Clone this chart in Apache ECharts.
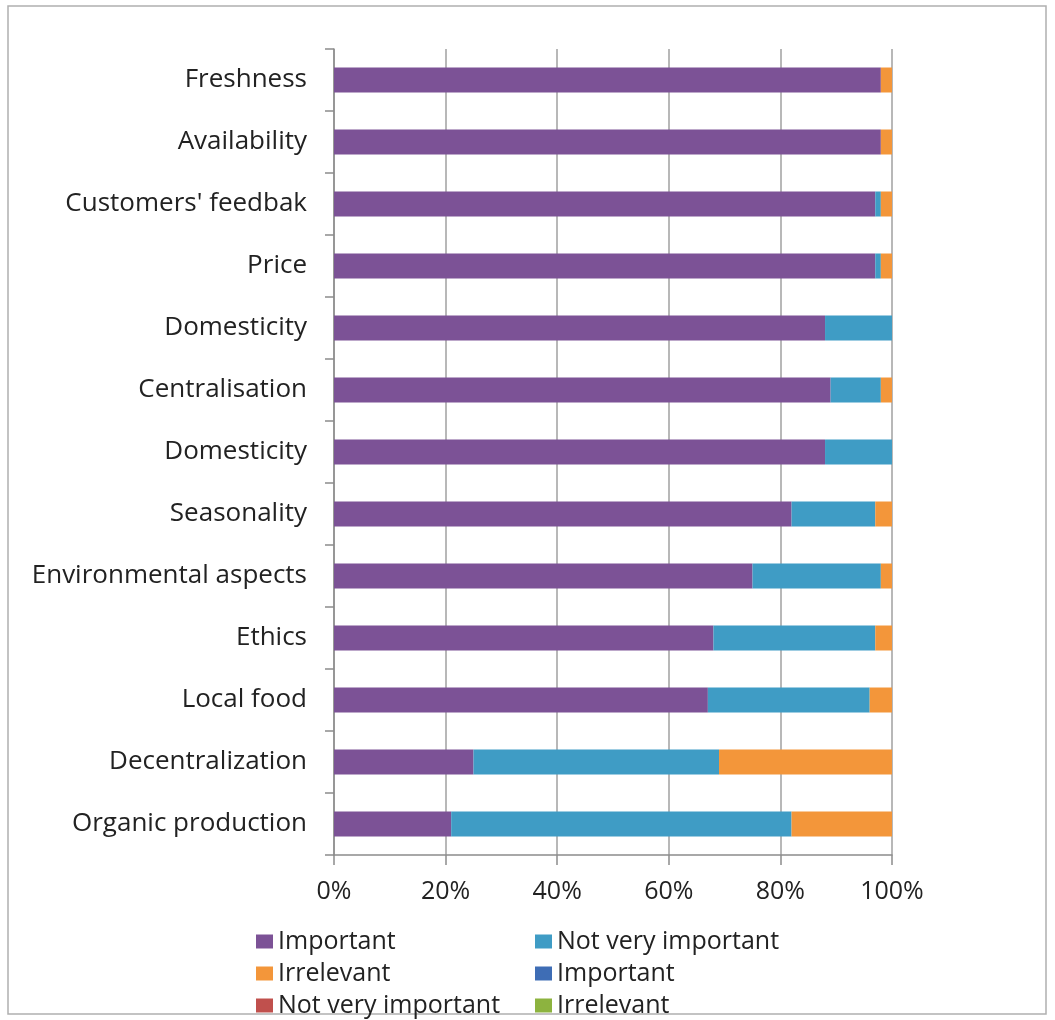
<!DOCTYPE html>
<html>
<head>
<meta charset="utf-8">
<script src="https://cdn.jsdelivr.net/npm/echarts@6/dist/echarts.min.js"></script>
<style>
html,body{margin:0;padding:0;background:#fff;}
#chart{width:1055px;height:1020px;}
</style>
</head>
<body>
<div id="chart"></div>
<script>
const categories = ["Freshness","Availability","Customers' feedbak","Price","Domesticity","Centralisation","Domesticity","Seasonality","Environmental aspects","Ethics","Local food","Decentralization","Organic production"];
const important = [98, 98, 97, 97, 88, 89, 88, 82, 75, 68, 67, 25, 21];
const notVeryImportant = [0, 0, 1, 1, 12, 9, 12, 15, 23, 29, 29, 44, 61];
const irrelevant = [2, 2, 2, 2, 0, 2, 0, 3, 2, 3, 4, 31, 18];
const emptySeries = [0, 0, 0, 0, 0, 0, 0, 0, 0, 0, 0, 0, 0];
const xTicks = ["0%","20%","40%","60%","80%","100%"];

const FONT = 'Open Sans';
const chart = echarts.init(document.getElementById('chart'));
const names = ['Important','Not very important','Irrelevant','Important ','Not very important ','Irrelevant '];
const colors = ['#7C5296','#3F9CC5','#F3963A','#3E6DB5','#C0504D','#8DB33F'];
const datas = [important, notVeryImportant, irrelevant, emptySeries, emptySeries, emptySeries];

const series = names.map((n,i)=>({
  name:n, type:'bar', stack:'total', barWidth:25,
  data: datas[i],
  itemStyle:{color:colors[i]},
  emphasis:{disabled:true}
}));

const legendCommon = {
  orient:'vertical', icon:'rect', itemWidth:17, itemHeight:14, itemGap:7, padding:0,
  height:100,
  textStyle:{fontFamily:FONT, fontSize:25, color:'#222', lineHeight:24},
  selectedMode:false
};

chart.setOption({
  animation:false,
  backgroundColor:'#fff',
  color: colors,
  grid:{left:334, right:163, top:49, bottom:165, containLabel:false},
  xAxis:{
    type:'value', min:0, max:100, interval:20,
    axisLine:{show:true, lineStyle:{color:'#8c8c8c', width:1.5}},
    axisTick:{show:true, length:10, lineStyle:{color:'#8c8c8c', width:1.5}},
    splitLine:{show:true, lineStyle:{color:'#a0a0a0', width:1.5}},
    axisLabel:{fontFamily:FONT, fontSize:25, color:'#222', margin:24,
      formatter:(v)=>xTicks[Math.round(v/20)]}
  },
  yAxis:{
    type:'category', data:categories, inverse:true,
    axisLine:{show:true, lineStyle:{color:'#8c8c8c', width:1.5}},
    axisTick:{show:true, length:9, lineStyle:{color:'#8c8c8c', width:1.5}},
    axisLabel:{fontFamily:FONT, fontSize:26, color:'#222', margin:27}
  },
  legend:[
    Object.assign({left:256, top:929, data:['Important','Irrelevant','Not very important ']}, legendCommon),
    Object.assign({left:535, top:929, data:['Not very important','Important ','Irrelevant ']}, legendCommon)
  ],
  graphic:[{
    type:'rect', shape:{x:8, y:6, width:1038, height:1008},
    style:{fill:'none', stroke:'#b0b0b0', lineWidth:1.5}, silent:true
  }],
  series: series
});
</script>
</body>
</html>
